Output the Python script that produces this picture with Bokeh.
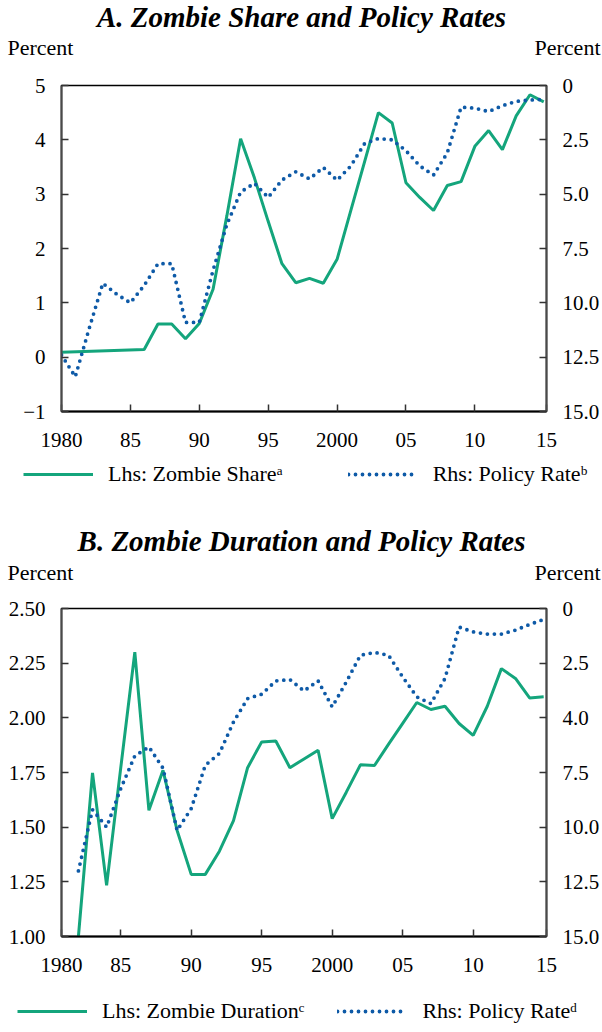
from bokeh.plotting import figure
from bokeh.models import Range1d, LinearAxis, FixedTicker, Legend, LegendItem
from bokeh.layouts import column
from bokeh.embed import file_html
from bokeh.resources import INLINE
from bokeh.core.properties import value

# ---------------- data ----------------
share_years = [1980, 1986, 1987, 1988, 1989, 1990, 1991, 1992, 1993, 1994, 1995, 1996,
               1997, 1998, 1999, 2000, 2001, 2002, 2003, 2004, 2005, 2006, 2007, 2008,
               2009, 2010, 2011, 2012, 2013, 2014, 2015]
zombie_share = [0.09, 0.14, 0.61, 0.61, 0.34, 0.62, 1.25, 2.60, 4.02, 3.30, 2.50, 1.72,
                1.37, 1.45, 1.36, 1.80, 2.70, 3.60, 4.50, 4.31, 3.21, 2.94, 2.70, 3.16,
                3.23, 3.88, 4.17, 3.82, 4.44, 4.83, 4.70]

rate_a_years = list(range(1980, 2016))
policy_rate_a = [12.4, 13.4, 11.2, 9.1, 9.6, 10.0, 9.2, 8.2, 8.2, 10.9, 10.9, 8.5,
                 6.4, 4.9, 4.5, 5.15, 4.35, 3.97, 4.3, 3.77, 4.36, 3.7, 2.67, 2.44,
                 2.5, 3.0, 3.7, 4.12, 3.1, 1.0, 1.04, 1.2, 0.93, 0.73, 0.67, 0.64]

dur_years = list(range(1982, 2016))
zombie_duration = [1.00, 1.748, 1.234, 1.77, 2.30, 1.577, 1.76, 1.485, 1.284, 1.284,
                   1.39, 1.53, 1.772, 1.89, 1.894, 1.772, 1.812, 1.852, 1.539, 1.66,
                   1.785, 1.782, 1.88, 1.975, 2.07, 2.038, 2.053, 1.974, 1.92, 2.053,
                   2.225, 2.18, 2.091, 2.096]

rate_b_years = list(range(1982, 2016))
policy_rate_b = [12.0, 9.2, 10.0, 8.24, 6.74, 6.33, 7.3, 10.15, 9.15, 7.17, 6.63, 5.19,
                 4.12, 3.92, 3.31, 3.25, 3.77, 3.31, 4.5, 3.36, 2.14, 2.01, 2.14, 3.13,
                 4.04, 4.35, 3.2, 0.85, 1.07, 1.17, 1.17, 0.99, 0.73, 0.5]

x_tick_labels = ["1980", "85", "90", "95", "2000", "05", "10", "15"]
left_ticks_a = [-1, 0, 1, 2, 3, 4, 5]
left_labels_a = ["\u22121", "0", "1", "2", "3", "4", "5"]
left_ticks_b = [1.0, 1.25, 1.5, 1.75, 2.0, 2.25, 2.5]
left_labels_b = ["1.00", "1.25", "1.50", "1.75", "2.00", "2.25", "2.50"]
right_ticks = [0, 2.5, 5, 7.5, 10, 12.5, 15]
right_labels_a = ["0", "2.5", "5.0", "7.5", "10.0", "12.5", "15.0"]
right_labels_b = ["0", "2.5", "4.0", "7.5", "10.0", "12.5", "15.0"]

GREEN = "#14a57c"
BLUE = "#0e5aa7"
FONT = "Liberation Serif"
FS_TICK = "21px"
FS_TEXT = "22px"
W = 602
NAN = float("nan")
DOTS = "0 7"


def style_axis(ax, ticks, labels, line_color):
    ax.ticker = FixedTicker(ticks=ticks)
    ax.major_label_overrides = {t: l for t, l in zip(ticks, labels)}
    ax.major_label_text_font = FONT
    ax.major_label_text_font_size = FS_TICK
    ax.major_label_text_color = "black"
    ax.major_tick_in = 7
    ax.major_tick_out = 0
    ax.minor_tick_line_color = None
    ax.major_tick_line_color = "#333333"
    ax.major_tick_line_width = 1.5
    ax.axis_line_color = line_color
    ax.axis_line_width = 2
    ax.major_label_standoff = 16


def blank(height):
    f = figure(width=W, height=height, x_range=Range1d(0, W), y_range=Range1d(0, height),
               output_backend="svg", toolbar_location=None,
               x_axis_location=None, y_axis_location=None,
               min_border=0, min_border_left=0, min_border_right=0,
               min_border_top=0, min_border_bottom=0, frame_align=False)
    f.grid.visible = False
    f.outline_line_color = None
    return f


def header(height, title, title_y, percent_y):
    h = blank(height)
    h.text(x=[W / 2], y=[height - title_y], text=[title], text_align="center",
           text_baseline="middle", text_font=value(FONT), text_font_size="29px",
           text_font_style="bold italic", text_color="black")
    h.text(x=[7], y=[height - percent_y], text=["Percent"], text_align="left",
           text_baseline="middle", text_font=value(FONT), text_font_size=FS_TEXT,
           text_color="black")
    h.text(x=[600], y=[height - percent_y], text=["Percent"], text_align="right",
           text_baseline="middle", text_font=value(FONT), text_font_size=FS_TEXT,
           text_color="black")
    return h


def footer(height, line_name, rate_name, x0, center_from_top, spacing):
    f = blank(height)
    g = f.line([NAN], [NAN], line_color=GREEN, line_width=3)
    b = f.line([NAN], [NAN], line_color=BLUE, line_width=3.8, line_dash=DOTS,
               line_cap="round")
    legend = Legend(items=[LegendItem(label=line_name, renderers=[g]),
                           LegendItem(label=rate_name, renderers=[b])],
                    location=(x0, height - center_from_top - 11),
                    orientation="horizontal",
                    glyph_width=70, glyph_height=22, label_standoff=15,
                    spacing=spacing, padding=0, margin=0,
                    border_line_alpha=0, background_fill_alpha=0,
                    label_text_font=FONT, label_text_font_size=FS_TEXT,
                    label_text_color="black", label_height=22)
    f.add_layout(legend, "center")
    return f


def main(frame_h, xr, yr, x_ticks, left_ticks, left_labels, right_labels,
         line_x, line_y, rate_x, rate_y):
    p = figure(width=W, height=frame_h + 14 + 44, x_range=xr, y_range=yr,
               output_backend="svg", toolbar_location=None,
               min_border_left=61, min_border_right=56,
               min_border_top=14, min_border_bottom=44)
    p.extra_y_ranges = {"rate": Range1d(15, 0)}
    p.grid.visible = False
    p.outline_line_color = "black"
    p.outline_line_width = 1.5

    style_axis(p.xaxis[0], x_ticks, x_tick_labels, "black")
    p.xaxis[0].major_label_standoff = 21
    style_axis(p.yaxis[0], left_ticks, left_labels, "#4a4a4a")

    rax = LinearAxis(y_range_name="rate")
    style_axis(rax, right_ticks, right_labels, "#4a4a4a")
    p.add_layout(rax, "right")

    p.line(line_x, line_y, line_color=GREEN, line_width=3)
    p.line(rate_x, rate_y, y_range_name="rate", line_color=BLUE,
           line_width=3.8, line_dash=DOTS, line_cap="round")
    return p


ha = header(71, "A. Zombie Share and Policy Rates", 16, 47)
pa = main(326, Range1d(1980, 2015.2), Range1d(-1, 5),
          [1980, 1985, 1990, 1995, 2000, 2005, 2010, 2015.2],
          left_ticks_a, left_labels_a, right_labels_a,
          share_years, zombie_share, rate_a_years, policy_rate_a)
fa = footer(65, "Lhs: Zombie Share\u1d43", "Rhs: Policy Rate\u1d47", 23, 21, 65)

hb = header(74, "B. Zombie Duration and Policy Rates", 20, 52)
pb = main(328, Range1d(1980.8, 2015.2), Range1d(1.0, 2.5),
          [1980.8, 1985, 1990, 1995, 2000, 2005, 2010, 2015.2],
          left_ticks_b, left_labels_b, right_labels_b,
          dur_years, zombie_duration, rate_b_years, policy_rate_b)
fb = footer(48, "Lhs: Zombie Duration\u1d9c", "Rhs: Policy Rate\u1d48", 17, 33, 33)

layout = column(ha, pa, fa, hb, pb, fb, spacing=0)
open("out.html", "w").write(file_html(layout, INLINE))
